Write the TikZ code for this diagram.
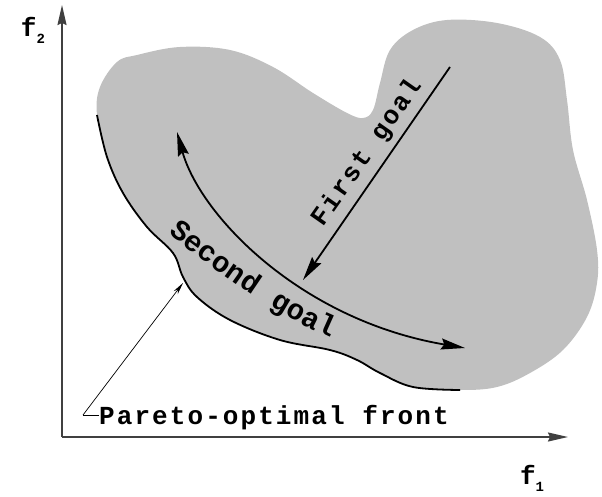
\documentclass[tikz,border=0pt]{standalone}
\usepackage{fontspec}
\usetikzlibrary{arrows.meta,decorations.text}
\newfontfamily\tw[LetterSpace=8]{Liberation Mono}
\definecolor{blobgray}{RGB}{192,192,192}
\tikzset{
  axisline/.style={line width=1.6pt,draw=black!75,-{Stealth[length=20pt,width=9pt,inset=2pt]}},
  goalarrow/.style={line width=1.8pt,-{Stealth[length=24pt,width=11pt,inset=3pt]}},
  frontline/.style={line width=1.8pt},
  pointer/.style={line width=0.7pt,-{Stealth[length=12pt,width=5pt]}},
  lbl/.style={font=\tw\bfseries\fontsize{26}{30}\selectfont, inner sep=0pt}
}
\begin{document}
\begin{tikzpicture}[x=1pt,y=-1pt]
\useasboundingbox (0,0) rectangle (602,497);
% feasible region
\fill[blobgray] plot[smooth cycle, tension=0.6] coordinates {
 (97,115) (100,87) (117,62) (137,55) (180,47) (230,50) (273,67) (313,93) (347,113)
 (363,118) (373,110) (380,83) (390,50) (413,30) (447,20) (497,23) (540,37) (560,60)
 (567,100) (573,150) (587,200) (597,250) (597,283) (587,317) (563,350) (530,373)
 (497,387) (460,390) (413,387) (380,373) (357,360) (330,350) (280,340) (230,320)
 (197,297) (183,277) (173,253) (147,227) (123,193) (107,157)};
% Pareto-optimal front
\draw[frontline] plot[smooth, tension=0.6] coordinates {
 (97,115) (107,157) (123,193) (147,227) (173,253) (183,277) (197,297) (230,320)
 (280,340) (330,350) (357,360) (380,373) (413,387) (460,390)};
% axes
\coordinate (O) at (62,437);
\coordinate (Y) at (62,5);
\coordinate (X) at (568,437);
\draw[axisline] (O) -- (Y);
\draw[axisline] (O) -- (X);
\node[lbl] (f2) at (33,30) {f\raisebox{-7pt}{\fontsize{14}{14}\selectfont 2}};
\node[lbl] (f1) at (532,478) {f\raisebox{-7pt}{\fontsize{14}{14}\selectfont 1}};
% first goal
\coordinate (g1s) at (450,67);
\coordinate (g1e) at (303,280);
\draw[goalarrow] (g1s) -- (g1e);
\node[lbl, rotate=55] (fg) at (367,153) {First goal};
% second goal
\coordinate (g2a) at (177,132);
\coordinate (g2b) at (465,348);
\draw[goalarrow, {Stealth[length=24pt,width=11pt,inset=3pt]}-{Stealth[length=24pt,width=11pt,inset=3pt]}]
  (g2a) .. controls (200,215) and (300,320) .. (g2b);
\path[decorate, decoration={text along path,
  text={|\tw\bfseries\fontsize{29}{32}\selectfont|Second goal}}]
  (168,234) .. controls (230,280) and (280,320) .. (352,346);
% pointer label
\node[lbl, anchor=base west] (pl) at (99,424) {Pareto-optimal front};
\coordinate (pc) at (83,415);
\coordinate (pt) at (183,283);
\draw[line width=0.7pt] (pl.west |- pc) -- (pc);
\draw[pointer] (pc) -- (pt);
\end{tikzpicture}
\end{document}
